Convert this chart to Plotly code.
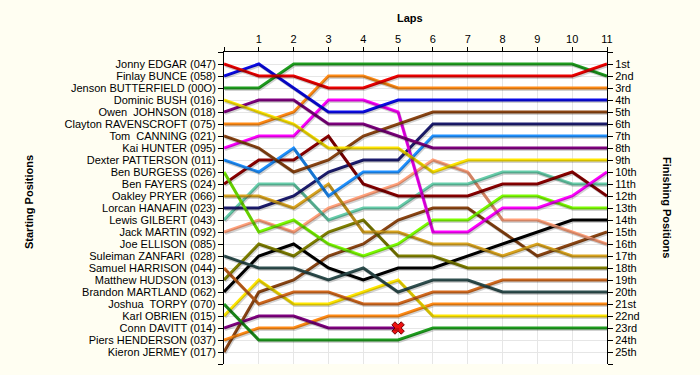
import plotly.graph_objects as go

laps = list(range(0, 12))
lap_ticks = ["", "1", "2", "3", "4", "5", "6", "7", "8", "9", "10", "11"]

drivers = [
    "Jonny EDGAR (047)", "Finlay BUNCE (058)", "Jenson BUTTERFIELD (00O)", "Dominic BUSH (016)",
    "Owen\u00a0 JOHNSON (018)", "Clayton RAVENSCROFT (075)", "Tom\u00a0 CANNING (021)", "Kai HUNTER (095)",
    "Dexter PATTERSON (011)", "Ben BURGESS (026)", "Ben FAYERS (024)", "Oakley PRYER (066)",
    "Lorcan HANAFIN (023)", "Lewis GILBERT (043)", "Jack MARTIN (092)", "Joe ELLISON (085)",
    "Suleiman ZANFARI\u2002(028)", "Samuel HARRISON (044)", "Matthew HUDSON (013)",
    "Brandon MARTLAND (062)", "Joshua\u00a0 TORPY (070)", "Karl OBRIEN (015)", "Conn DAVITT (014)",
    "Piers HENDERSON (037)", "Kieron JERMEY (017)",
]

finish_labels = ["1st", "2nd", "3rd", "4th", "5th", "6th", "7th", "8th", "9th", "10th",
                 "11th", "12th", "13th", "14th", "15th", "16th", "17th", "18th", "19th",
                 "20th", "21st", "22nd", "23rd", "24th", "25th"]

# positions per lap (lap 0 = grid), keyed by starting position
positions = {
    1:  [1, 2, 2, 3, 3, 2, 2, 2, 2, 2, 2, 1],
    2:  [2, 1, 3, 5, 5, 4, 4, 4, 4, 4, 4, 4],
    3:  [3, 3, 1, 1, 1, 1, 1, 1, 1, 1, 1, 2],
    4:  [4, 5, 6, 8, 8, 8, 10, 9, 9, 9, 9, 9],
    5:  [5, 4, 4, 6, 6, 7, 8, 8, 8, 8, 8, 8],
    6:  [6, 6, 5, 2, 2, 3, 3, 3, 3, 3, 3, 3],
    7:  [7, 8, 10, 9, 7, 6, 5, 5, 5, 5, 5, 5],
    8:  [8, 7, 7, 4, 4, 5, 15, 15, 13, 13, 12, 10],
    9:  [9, 10, 8, 12, 10, 10, 7, 7, 7, 7, 7, 7],
    10: [10, 15, 14, 16, 17, 16, 14, 14, 12, 12, 13, 13],
    11: [11, 9, 9, 7, 11, 12, 12, 12, 11, 11, 10, 12],
    12: [12, 12, 13, 11, 15, 15, 16, 16, 17, 16, 17, 17],
    13: [13, 13, 12, 10, 9, 9, 6, 6, 6, 6, 6, 6],
    14: [14, 11, 11, 14, 13, 13, 11, 11, 10, 10, 11, 11],
    15: [15, 14, 15, 13, 12, 11, 9, 10, 14, 14, 15, 16],
    17: [17, 18, 18, 19, 18, 20, 19, 19, 20, 20, 20, 20],
    18: [18, 21, 20, 20, 21, 21, 20, 20, 19, 19, 19, 19],
    19: [19, 16, 17, 15, 14, 17, 17, 18, 18, 18, 18, 18],
    20: [20, 17, 16, 18, 19, 18, 18, 17, 16, 15, 14, 14],
    21: [21, 24, 24, 24, 24, 24, 23, 23, 23, 23, 23, 23],
    22: [22, 19, 21, 21, 20, 19, 22, 22, 22, 22, 22, 22],
    23: [23, 22, 22, 23, 23, 23],
    24: [24, 23, 23, 22, 22, 22, 21, 21, 21, 21, 21, 21],
    25: [25, 20, 19, 17, 16, 14, 13, 13, 15, 17, 16, 15],
}

colors = {
    1: "#EE0000", 2: "#0A0AE6", 3: "#1E9E1E", 4: "#FFE600", 5: "#800080",
    6: "#FF8A14", 7: "#8B4513", 8: "#FF00FF", 9: "#1E90FF", 10: "#7CFC00",
    11: "#8B0000", 12: "#DAA520", 13: "#1C1C6E", 14: "#66CDAA", 15: "#FFA07A",
    17: "#2F4F4F", 18: "#D2691E", 19: "#808000", 20: "#000000", 21: "#1E9E1E",
    22: "#FFE600", 23: "#800080", 24: "#FF8A14", 25: "#8B4513",
}

retired = [23]

font = "Arial, 'Liberation Sans', sans-serif"
fig = go.Figure()

# soft shadow under each line (drawn on a slightly shifted overlay axis)
for key in reversed(list(positions.keys())):
    pos = positions[key]
    fig.add_trace(go.Scatter(
        x=laps[:len(pos)], y=pos, mode="lines", xaxis="x2", yaxis="y3",
        line=dict(color="rgba(0,0,0,0.18)", width=3),
        hoverinfo="skip", showlegend=False,
    ))

for key in reversed(list(positions.keys())):
    pos = positions[key]
    fig.add_trace(go.Scatter(
        x=laps[:len(pos)], y=pos, mode="lines",
        line=dict(color=colors[key], width=3),
        hoverinfo="name+y", name=drivers[key - 1], showlegend=False,
    ))

for key in retired:
    rp = positions[key]
    fig.add_trace(go.Scatter(
        x=[laps[len(rp) - 1]], y=[rp[-1]], mode="markers",
        marker=dict(symbol="x", size=11, color="#EE1111", line=dict(color="#700000", width=1)),
        showlegend=False, hoverinfo="skip",
    ))

# invisible trace for right axis
fig.add_trace(go.Scatter(x=[0], y=[1], yaxis="y2", mode="markers",
                         marker=dict(opacity=0), showlegend=False, hoverinfo="skip"))

left_vals = list(range(0, 27))
left_text = [""] + drivers + [""]
right_text = [""] + finish_labels + [""]

plot_w = 700 - 224 - 93
plot_h = 375 - 52 - 11
dx = 11 / plot_w
dy = 26 / plot_h

fig.update_layout(
    width=700, height=375,
    margin=dict(l=224, r=93, t=52, b=11, autoexpand=False),
    paper_bgcolor="#FFFEF2",
    plot_bgcolor="#FFFFFF",
    font=dict(family=font, size=11, color="#000000"),
    xaxis=dict(
        side="top", range=[0, 11], tickvals=laps, ticktext=lap_ticks,
        showline=True, linecolor="#000000", linewidth=1,
        ticks="outside", ticklen=4, tickcolor="#000000",
        showgrid=True, gridcolor="#E6E6E6", gridwidth=1, zeroline=False,
        tickfont=dict(size=11), automargin=False,
    ),
    xaxis2=dict(range=[0 - dx, 11 - dx], overlaying="x", visible=False, automargin=False),
    yaxis=dict(
        range=[26, 0], tickvals=left_vals, ticktext=left_text,
        showline=True, linecolor="#000000", linewidth=1,
        ticks="outside", ticklen=5, tickcolor="#000000",
        showgrid=True, gridcolor="#E6E6E6", gridwidth=1, zeroline=False,
        tickfont=dict(size=11), automargin=False,
    ),
    yaxis2=dict(
        range=[26, 0], tickvals=left_vals, ticktext=right_text,
        overlaying="y", side="right", anchor="x",
        showline=True, linecolor="#000000", linewidth=1,
        ticks="outside", ticklen=5, tickcolor="#000000",
        showgrid=False, zeroline=False, tickfont=dict(size=11), automargin=False,
    ),
    yaxis3=dict(range=[26 - 1.5 * dy, 0 - 1.5 * dy], overlaying="y", visible=False,
                anchor="x2", automargin=False),
)

def px_ann(text, px, py, angle=0):
    return dict(text=text, xref="paper", yref="paper",
                x=(px - 224) / plot_w, y=((375 - py) - 11) / plot_h,
                xanchor="center", yanchor="middle", textangle=angle,
                showarrow=False, font=dict(size=11))

fig.update_layout(annotations=[
    px_ann("<b>Laps</b>", 410, 18),
    px_ann("<b>Starting Positions</b>", 29, 202, -90),
    px_ann("<b>Finishing Positions</b>", 667, 207, 90),
])

fig.write_html(
    "out.html",
    config={"displayModeBar": False},
    post_script="document.body.style.margin='0px';document.body.style.overflow='hidden';"
                "document.body.style.background='#FFFEF2';",
)
